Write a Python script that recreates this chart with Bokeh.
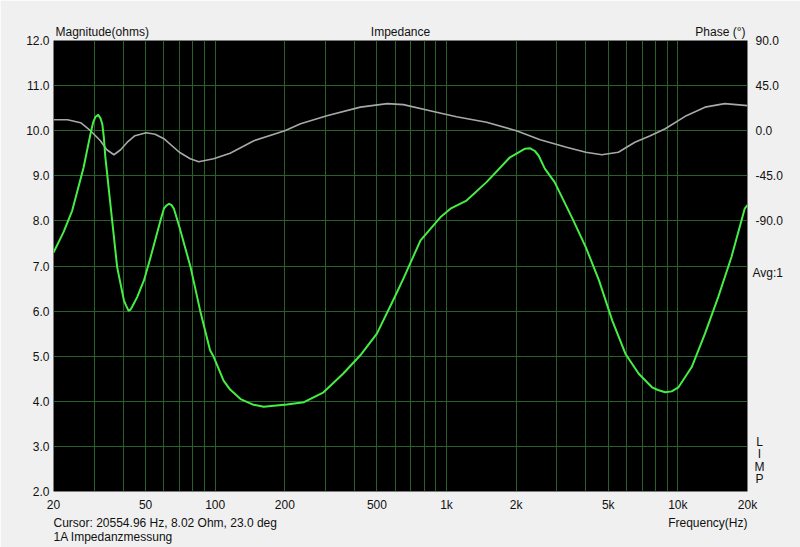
from bokeh.plotting import figure
from bokeh.models import Range1d, LinearAxis, FixedTicker, Label, Title, NumeralTickFormatter
from bokeh.embed import file_html
from bokeh.resources import INLINE

# ---- data ----
mag_freq = [20, 22.1, 24.1, 27.0, 28.9, 29.7, 30.4, 31.2, 31.9, 32.5, 33.0, 33.5, 35.1, 37.7,
            40.3, 41.2, 42.2, 43.0, 43.7, 46.0, 49.2, 52.6, 58.0, 60.0, 61.5, 63.2, 64.8, 66.3,
            70.1, 78.3, 86.1, 95, 98.6, 108.7, 116, 128.7, 145, 162, 204, 242, 294, 357, 424,
            500, 588, 651, 772, 940, 1040, 1221, 1489, 1881, 2050, 2185, 2300, 2409, 2500,
            2660, 2932, 3511, 3998, 4561, 5205, 5938, 6775, 7730, 8200, 8820, 9400, 10060,
            11480, 13100, 14940, 17050, 19450, 20000]
mag_ohm = [7.30, 7.75, 8.23, 9.19, 9.93, 10.19, 10.31, 10.35, 10.28, 10.15, 9.86, 9.42, 8.45,
           6.97, 6.24, 6.12, 6.01, 6.03, 6.09, 6.31, 6.68, 7.20, 8.01, 8.27, 8.34, 8.38, 8.35,
           8.27, 7.86, 6.97, 6.01, 5.13, 4.98, 4.46, 4.26, 4.05, 3.93, 3.88, 3.93, 3.98, 4.20,
           4.61, 5.02, 5.50, 6.24, 6.72, 7.57, 8.08, 8.27, 8.45, 8.86, 9.41, 9.52, 9.60, 9.61,
           9.55, 9.45, 9.16, 8.86, 8.04, 7.42, 6.68, 5.79, 5.05, 4.61, 4.31, 4.25, 4.20, 4.22,
           4.31, 4.76, 5.50, 6.31, 7.20, 8.27, 8.35]

ph_freq = [20, 23, 26.2, 28.9, 31.9, 34, 36.5, 39, 41.7, 45, 50.3, 55, 60, 70, 78, 84.9, 98.4,
           116, 147, 200, 234, 304, 424, 555, 651, 886, 1104, 1489, 2005, 2540, 3300, 4000,
           4690, 5530, 6520, 7600, 8820, 10880, 13100, 15950, 20000]
ph_deg = [11, 11, 8, 0, -10, -19, -24, -19, -11.5, -5, -2, -3.5, -8, -21.5, -28, -31, -28,
          -22.5, -10, 0, 7, 15, 23.5, 27, 26, 19, 14, 8.5, 0, -9, -16.5, -21.5,
          -24, -21.5, -11.5, -5, 2, 15, 23.5, 27, 25]

x_ticks = [20, 50, 100, 200, 500, 1000, 2000, 5000, 10000, 20000]
x_tick_labels = ["20", "50", "100", "200", "500", "1k", "2k", "5k", "10k", "20k"]
x_grid = [20, 30, 40, 50, 60, 70, 80, 90, 100, 200, 300, 400, 500, 600, 700, 800, 900,
          1000, 2000, 3000, 4000, 5000, 6000, 7000, 8000, 9000, 10000, 20000]
y_ticks = [2, 3, 4, 5, 6, 7, 8, 9, 10, 11, 12]
phase_ticks = [90, 45, 0, -45, -90]

FONT = "Liberation Sans"
TXT = "#111111"
GRID = "#2a602a"

p = figure(width=800, height=547, x_axis_type="log",
           x_range=Range1d(20, 20000), y_range=Range1d(2, 12),
           output_backend="svg", toolbar_location=None,
           min_border_left=53, min_border_right=53, min_border_top=40, min_border_bottom=56)
p.background_fill_color = "black"
p.border_fill_color = "#f0f0f0"
p.outline_line_color = None

p.extra_y_ranges = {"phase": Range1d(-360, 90)}

# grids
p.xgrid.ticker = FixedTicker(ticks=x_grid)
p.ygrid.ticker = FixedTicker(ticks=y_ticks[1:-1])
for g in (p.xgrid, p.ygrid):
    g.grid_line_color = GRID
    g.grid_line_width = 1

# axes
xa = p.xaxis[0]
xa.ticker = FixedTicker(ticks=x_ticks)
xa.major_label_overrides = {t: l for t, l in zip(x_ticks, x_tick_labels)}
ya = p.yaxis[0]
ya.ticker = FixedTicker(ticks=y_ticks)
ya.formatter = NumeralTickFormatter(format="0.0")

ra = LinearAxis(y_range_name="phase", ticker=FixedTicker(ticks=phase_ticks),
                formatter=NumeralTickFormatter(format="0.0"))
p.add_layout(ra, "right")

for ax in (xa, ya, ra):
    ax.axis_line_color = None
    ax.major_tick_line_color = None
    ax.minor_tick_line_color = None
    ax.major_tick_out = 0
    ax.major_tick_in = 0
    ax.minor_tick_out = 0
    ax.minor_tick_in = 0
    ax.major_label_text_font = FONT
    ax.major_label_text_font_size = "12px"
    ax.major_label_text_color = TXT
xa.major_label_standoff = 6
ya.major_label_standoff = 4
ra.major_label_standoff = 8

# curves
p.line(ph_freq, ph_deg, y_range_name="phase", line_color="#a8a8a8", line_width=1.6,
       line_join="round")
p.line(mag_freq, mag_ohm, line_color="#44ee44", line_width=2, line_join="round")


def spacer(size, side):
    # invisible axis used only to reserve space in a side panel
    ax = LinearAxis(ticker=FixedTicker(ticks=[1000]), major_label_overrides={1000: ""},
                    major_tick_out=size, major_tick_in=0,
                    minor_tick_out=0, minor_tick_in=0, major_label_standoff=0,
                    major_label_text_font_size="0px",
                    axis_line_color=None, major_tick_line_color=None,
                    minor_tick_line_color=None)
    p.add_layout(ax, side)


def title(text, side, align, offset=0):
    p.add_layout(Title(text=text, align=align, vertical_align="middle", offset=offset,
                       standoff=-16.3, text_font=FONT, text_font_size="12px",
                       text_font_style="normal", text_color=TXT), side)


# top line
spacer(9, "above")
title("Magnitude(ohms)", "above", "left", 2)
title("Impedance", "above", "center")
title("Phase (°)", "above", "right", 2)
p.add_layout(Label(x=699, y=-241, x_units="screen", y_units="screen", text="Avg:1",
                   text_font=FONT, text_font_size="12px", text_color=TXT,
                   text_align="left", text_baseline="middle"), "above")

# bottom lines
spacer(8, "below")
title("Cursor: 20554.96 Hz, 8.02 Ohm, 23.0 deg", "below", "left")
title("Frequency(Hz)", "below", "right")
spacer(14, "below")
title("1A Impedanzmessung", "below", "left")

# right side vertical letters
p.add_layout(Label(x=-26, y=31, x_units="screen", y_units="screen", text="L\nI\nM\nP",
                   text_font=FONT, text_font_size="12px", text_color=TXT,
                   text_align="center", text_baseline="middle", text_line_height=0.9), "right")

open("out.html", "w").write(file_html(p, INLINE))
